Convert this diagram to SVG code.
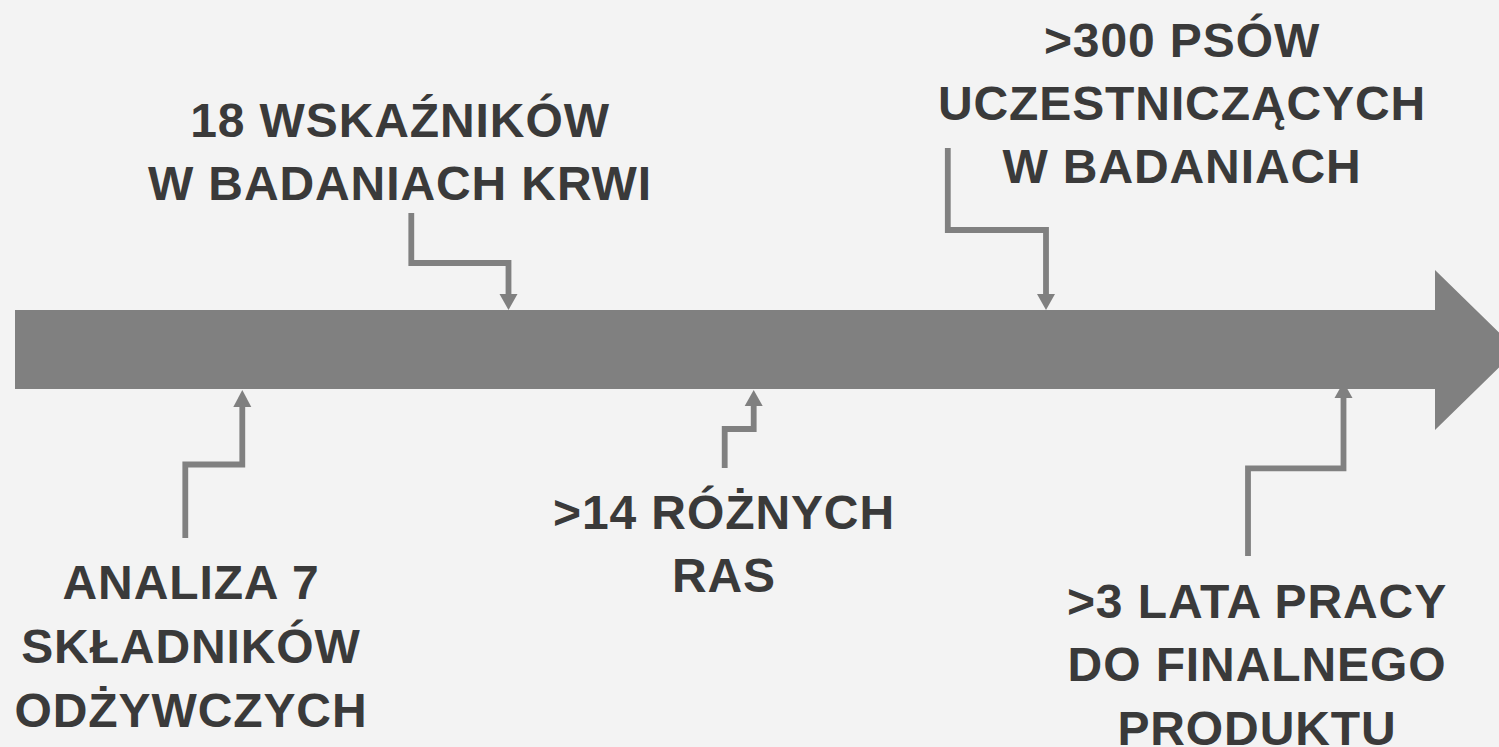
<svg xmlns="http://www.w3.org/2000/svg" width="1499" height="747" viewBox="0 0 1499 747">
<style>
.bg{fill:#f3f3f3}
.conn{fill:none;stroke:#808080;stroke-width:5.8;stroke-linejoin:miter;stroke-linecap:butt}
.head{fill:#808080}
.main{fill:#808080}
.lbl{font-family:"Liberation Sans",Arial,sans-serif;font-weight:bold;font-size:48px;fill:#3a3a3a;text-anchor:middle;letter-spacing:0.9px}
</style>
<rect class="bg" x="0" y="0" width="1499" height="747"/>
<g id="connectors">
<polyline class="conn" points="411.3,213 411.3,263 508.5,263 508.5,296"/>
<polygon class="head" points="499.5,294 517.5,294 508.5,310"/>
<polyline class="conn" points="947.8,148 947.8,230 1046,230 1046,296"/>
<polygon class="head" points="1037,294 1055,294 1046,310"/>
<polyline class="conn" points="185.3,538 185.3,464.5 242.3,464.5 242.3,405"/>
<polygon class="head" points="233.3,407 251.3,407 242.3,390"/>
<polyline class="conn" points="724.7,468 724.7,429 753.7,429 753.7,404"/>
<polygon class="head" points="744.7,406 762.7,406 753.7,390"/>
<polyline class="conn" points="1248,556 1248,468.3 1343.5,468.3 1343.5,396"/>
<polygon class="head" points="1334.5,398 1352.5,398 1343.5,382"/>
</g>
<g id="timeline">
<polygon class="main" points="15,310 1435,310 1435,270 1517,350 1435,430 1435,389 15,389"/>
</g>
<g id="node-wskazniki">
<text class="lbl" x="400" y="137">18 WSKAŹNIKÓW</text>
<text class="lbl" x="400" y="200">W BADANIACH KRWI</text>
</g>
<g id="node-psy">
<text class="lbl" x="1182" y="57">&gt;300 PSÓW</text>
<text class="lbl" x="1182" y="120">UCZESTNICZĄCYCH</text>
<text class="lbl" x="1182" y="183">W BADANIACH</text>
</g>
<g id="node-analiza">
<text class="lbl" x="191" y="599">ANALIZA 7</text>
<text class="lbl" x="191" y="663">SKŁADNIKÓW</text>
<text class="lbl" x="191" y="727">ODŻYWCZYCH</text>
</g>
<g id="node-rasy">
<text class="lbl" x="724" y="529">&gt;14 RÓŻNYCH</text>
<text class="lbl" x="724" y="592">RAS</text>
</g>
<g id="node-lata">
<text class="lbl" x="1257" y="618">&gt;3 LATA PRACY</text>
<text class="lbl" x="1257" y="681">DO FINALNEGO</text>
<text class="lbl" x="1257" y="745">PRODUKTU</text>
</g>
</svg>
